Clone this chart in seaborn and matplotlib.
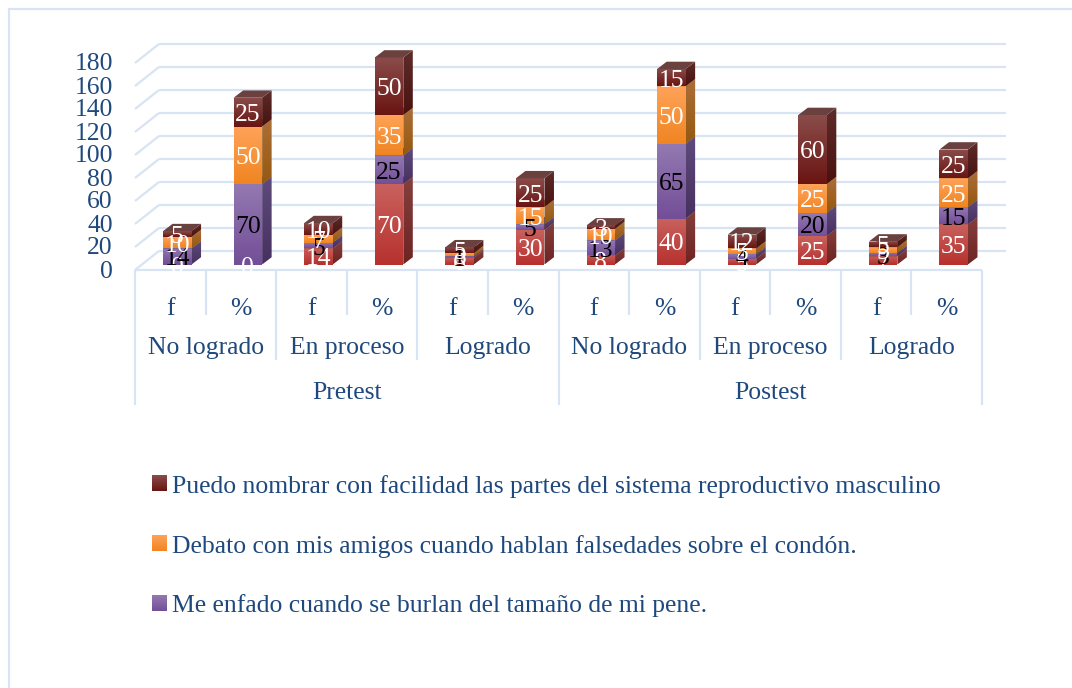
import numpy as np
import pandas as pd
import seaborn as sns
import matplotlib.pyplot as plt
from matplotlib.colors import LinearSegmentedColormap
from matplotlib.lines import Line2D
from matplotlib.patches import Patch, Polygon

columnas = ["f", "%"] * 6
niveles = ["No logrado", "En proceso", "Logrado"] * 2
momentos = ["Pretest", "Postest"]

serie_base = [0, 0, 14, 70, 6, 30, 8, 40, 5, 25, 7, 35]
serie_enfado = [14, 70, 5, 25, 1, 5, 13, 65, 4, 20, 3, 15]
serie_debato = [10, 50, 7, 35, 3, 15, 10, 50, 5, 25, 5, 25]
serie_nombrar = [5, 25, 10, 50, 5, 25, 3, 15, 12, 60, 5, 25]

nombre_base = "Sin nombre"
nombre_enfado = "Me enfado cuando se burlan del tamaño de mi pene."
nombre_debato = "Debato con mis amigos cuando hablan falsedades sobre el condón."
nombre_nombrar = "Puedo nombrar con facilidad las partes del sistema reproductivo masculino"

orden = [nombre_base, nombre_enfado, nombre_debato, nombre_nombrar]
valores = [serie_base, serie_enfado, serie_debato, serie_nombrar]

# front top, front bottom, side top, side bottom, top face, label colour
estilos = {
    nombre_base: ("#c9625e", "#b7322f", "#84403e", "#6e2422", "#8c4a48", "white"),
    nombre_enfado: ("#9379b1", "#744f98", "#5f4c7c", "#46305f", "#5f4c7c", "black"),
    nombre_debato: ("#ffa359", "#f08522", "#ab6e38", "#96590f", "#ab6e38", "white"),
    nombre_nombrar: ("#8a4c4a", "#6a1512", "#5e2c2a", "#48120f", "#6b4140", "white"),
}

TEXTO = "#1f497d"
LINEA = "#d8e4f3"
FUENTE = 18.45

sns.set_style("white")
plt.rcParams["font.family"] = ["Liberation Serif", "DejaVu Serif"]

df = pd.DataFrame(
    {
        "columna": np.tile(np.arange(12), 4),
        "serie": np.repeat(orden, 12),
        "valor": np.concatenate(valores),
    }
)

# pixels -> data units
ux = 12 / 847
uy = 200 / 230
dx_barra, dy_barra = 9.5 * ux, 7.3 * uy
dx_fondo, dy_fondo = 17 * ux, 13.5 * uy
dx_frente, dy_frente = -7 * ux, -5.5 * uy
ymin = -6 * uy

fig = plt.figure(figsize=(10.72, 6.88), dpi=100)
ax = fig.add_axes([142 / 1072, (688 - 270.5) / 688, 847 / 1072, 236 / 688])

# seaborn stacks the last hue level at the bottom
sns.histplot(
    df,
    x="columna",
    weights="valor",
    hue="serie",
    hue_order=orden[::-1],
    multiple="stack",
    discrete=True,
    shrink=0.404,
    palette=[estilos[n][1] for n in orden[::-1]],
    alpha=1,
    linewidth=0,
    legend=False,
    ax=ax,
)


def fy(py):
    return (264.5 - py) * uy


def gradiente(verts, c_arriba, c_abajo, z):
    verts = np.array(verts)
    cmap = LinearSegmentedColormap.from_list("g", [c_arriba, c_abajo])
    im = ax.imshow(
        np.linspace(0, 1, 64)[:, None],
        cmap=cmap,
        aspect="auto",
        origin="upper",
        extent=(verts[:, 0].min(), verts[:, 0].max(), verts[:, 1].min(), verts[:, 1].max()),
        zorder=z,
    )
    im.set_clip_path(Polygon(verts, transform=ax.transData))
    return im


# containers come bottom series first
for s, cont in enumerate(ax.containers):
    nombre = orden[s]
    est = estilos[nombre]
    z = 3 + s * 0.1
    for i, bar in enumerate(cont):
        x0, y0 = bar.get_x(), bar.get_y()
        w, h = bar.get_width(), bar.get_height()
        x1, y1 = x0 + w, y0 + h
        bar.set_zorder(z)
        if h > 0:
            gradiente([(x0, y0), (x1, y0), (x1, y1), (x0, y1)], est[0], est[1], z + 0.03)
            gradiente(
                [(x1, y0), (x1 + dx_barra, y0 + dy_barra), (x1 + dx_barra, y1 + dy_barra), (x1, y1)],
                est[2], est[3], z + 0.02,
            )
            ax.add_patch(
                Polygon(
                    [(x0, y1), (x1, y1), (x1 + dx_barra, y1 + dy_barra), (x0 + dx_barra, y1 + dy_barra)],
                    facecolor=est[4], edgecolor="none", zorder=z + 0.04,
                )
            )
        ax.text(
            x0 + w / 2, y0 + h / 2 - 3 * uy, str(valores[s][i]),
            color=est[5], ha="center", va="center", fontsize=FUENTE, zorder=10,
        )

# back wall and floor
lineas = dict(color=LINEA, lw=1.6, clip_on=False, zorder=1, solid_capstyle="butt")
ticks_y = np.arange(0, 181, 20)
for v in ticks_y:
    ax.plot([-0.5 + dx_fondo, 11.5 + dx_fondo], [v + dy_fondo, v + dy_fondo], **lineas)
    ax.plot([-0.5 + dx_frente, -0.5 + dx_fondo], [v + dy_frente, v + dy_fondo], **lineas)
ax.plot([-0.5 + dx_frente, 11.5 + dx_frente], [dy_frente, dy_frente], **lineas)

# multi level category separators
for k in range(13):
    x = k - 0.5 + dx_frente
    if k % 6 == 0:
        fondo = 405
    elif k % 2 == 0:
        fondo = 360
    else:
        fondo = 315
    ax.plot([x, x], [dy_frente, fy(fondo)], **lineas)

for k, nivel in enumerate(niveles):
    ax.text(2 * k + 0.5 + dx_frente, fy(348), nivel, color=TEXTO, fontsize=FUENTE, ha="center", va="center")
for k, momento in enumerate(momentos):
    ax.text(6 * k + 2.5 + dx_frente, fy(393), momento, color=TEXTO, fontsize=FUENTE, ha="center", va="center")

ax.set_xlabel("")
ax.set_ylabel("")
ax.set_xticks(np.arange(12) + dx_frente, columnas)
ax.set_yticks(ticks_y - 4.5 * uy, [str(v) for v in ticks_y])
ax.set_xlim(-0.5, 11.5)
ax.set_ylim(ymin, 200)
ax.tick_params(axis="x", length=0, pad=19.5, labelsize=FUENTE, labelcolor=TEXTO)
ax.tick_params(axis="y", length=0, pad=21, labelsize=FUENTE, labelcolor=TEXTO)
sns.despine(ax=ax, left=True, bottom=True)
ax.patch.set_alpha(0)

series_leyenda = orden[:0:-1]
manijas = [Patch(facecolor=estilos[n][1], edgecolor="none") for n in series_leyenda]
leg = fig.legend(
    manijas,
    series_leyenda,
    loc="upper left",
    bbox_to_anchor=(144 / 1072, 1 - 467 / 688),
    frameon=False,
    fontsize=FUENTE,
    labelcolor=TEXTO,
    handlelength=0.55,
    handleheight=0.55,
    handletextpad=0.25,
    labelspacing=1.44,
    borderpad=0.3,
    borderaxespad=0,
)

# gradient squares over the legend handles, same look as the bars
fig.canvas.draw()
inv = ax.transData.inverted()
for n, p in zip(series_leyenda, leg.get_patches()):
    caja = p.get_window_extent()
    (a0, b0), (a1, b1) = inv.transform([(caja.x0, caja.y0), (caja.x1, caja.y1)])
    p.set_visible(False)
    im = gradiente([(a0, b0), (a1, b0), (a1, b1), (a0, b1)], estilos[n][0], estilos[n][1], 3)
    im.set_clip_on(False)
ax.set_xlim(-0.5, 11.5)
ax.set_ylim(ymin, 200)

# outer frame of the pasted chart
marco = dict(color=LINEA, lw=1.6, transform=fig.transFigure)
fig.add_artist(Line2D([8.5 / 1072, 8.5 / 1072], [0, 1 - 8.5 / 688], **marco))
fig.add_artist(Line2D([8.5 / 1072, 1], [1 - 8.5 / 688, 1 - 8.5 / 688], **marco))

fig.savefig("out.png", dpi=100)
